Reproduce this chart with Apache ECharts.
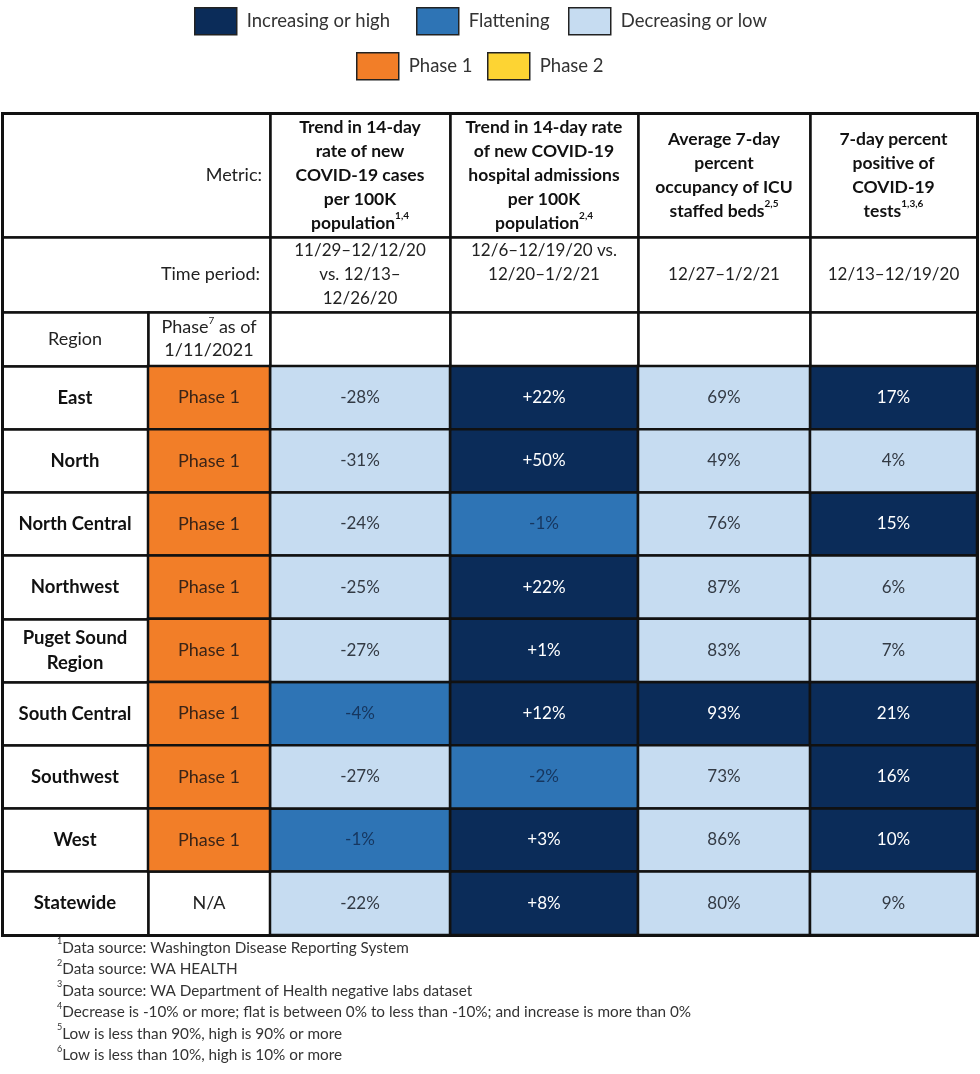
<!DOCTYPE html>
<html><head><meta charset="utf-8">
<script src="https://cdn.jsdelivr.net/npm/echarts@6/dist/echarts.min.js"></script>
<style>html,body{margin:0;padding:0;background:#fff}#c{width:980px;height:1074px}</style>
</head><body><div id="c"></div>
<script>
// ---------- data ----------
const regions = ['East','North','North Central','Northwest','Puget Sound Region','South Central','Southwest','West','Statewide'];
const regionLabels = ['East','North','North Central','Northwest','Puget Sound\nRegion','South Central','Southwest','West','Statewide'];
const phases = ['Phase 1','Phase 1','Phase 1','Phase 1','Phase 1','Phase 1','Phase 1','Phase 1','N/A'];
const casesTrend = [-28,-31,-24,-25,-27,-4,-27,-1,-22];
const hospTrend = [22,50,-1,22,1,12,-2,3,8];
const icuOccupancy = [69,49,76,87,83,93,73,86,80];
const testPositivity = [17,4,15,6,7,21,16,10,9];
const metricLines = [
  ['Trend in 14-day','rate of new','COVID-19 cases','per 100K','population'],
  ['Trend in 14-day rate','of new COVID-19','hospital admissions','per 100K','population'],
  ['Average 7-day','percent','occupancy of ICU','staffed beds'],
  ['7-day percent','positive of','COVID-19','tests']
];
const metricSups = ['1,4','2,4','2,5','1,3,6'];
const timePeriods = [
  ['11/29–12/12/20','vs. 12/13–','12/26/20'],
  ['12/6–12/19/20 vs.','12/20–1/2/21',' '],
  ['12/27–1/2/21'],
  ['12/13–12/19/20']
];
const statusNames = ['Increasing or high','Flattening','Decreasing or low'];
const phaseNames = ['Phase 1','Phase 2'];
const footnotes = [
  'Data source: Washington Disease Reporting System',
  'Data source: WA HEALTH',
  'Data source: WA Department of Health negative labs dataset',
  'Decrease is -10% or more; flat is between 0% to less than -10%; and increase is more than 0%',
  'Low is less than 90%, high is 90% or more',
  'Low is less than 10%, high is 10% or more'
];

// ---------- layout / style ----------
const FONT = 'Lato';
const colKeys = ['Region','Phase','Cases','Hosp','ICU','Pos'];
const colSizes = [146,122,180,188,172,167];
const rowKeys = ['Metric','Time','Header'].concat(regions);
const rowSizes = [124,75,54].concat(regions.map(() => 63.2));
const statusColors = ['#0b2c59','#2e74b5','#c6dcf1'];
const statusText = ['#ffffff','#16365f','#333a44'];
const phaseColors = ['#f27e28','#fdd433'];
const LINE = '#111';
const legendPos = [[194,7],[416,7],[568,7],[356,52],[487,52]];

function trendStatus(v){ return v > 0 ? 0 : (v > -10 ? 1 : 2); }
function icuStatus(v){ return v >= 90 ? 0 : 2; }
function posStatus(v){ return v >= 10 ? 0 : 2; }
const metricCols = [
  {col:2, vals:casesTrend, st:trendStatus},
  {col:3, vals:hospTrend, st:trendStatus},
  {col:4, vals:icuOccupancy, st:icuStatus},
  {col:5, vals:testPositivity, st:posStatus}
];
const signedCols = {2:true,3:true};

const statusData = [[],[],[]];
metricCols.forEach(m => {
  m.vals.forEach((v, r) => { statusData[m.st(v)].push([m.col, r + 3, v]); });
});
const phaseData = [[],[]];
phases.forEach((p, r) => { const i = phaseNames.indexOf(p); if (i >= 0) phaseData[i].push({name: p, value: [1, r + 3, i]}); });

// text cells (headers, region names, N/A)
const textItems = [];
function addText(c, r, text, label){
  textItems.push(text);
  const item = {value: [c, r, textItems.length - 1]};
  if (label) item.label = label;
  return item;
}
const textData = [
  addText(1, 0, '{n|Metric:}', {position:'insideRight', distance:8}),
  addText(1, 1, '{n|Time period:}', {position:'insideRight', distance:10}),
  addText(0, 2, '{n|Region}'),
  addText(1, 2, '{p|Phase}{s|7}{p| as of}\n{p|1/11/2021}')
];
metricLines.forEach((lines, i) => {
  const txt = lines.map((l, j) => '{b|' + l + '}' + (j === lines.length - 1 ? '{bs|' + metricSups[i] + '}' : '')).join('\n');
  textData.push(addText(i + 2, 0, txt));
  textData.push(addText(i + 2, 1, timePeriods[i].map(l => '{d|' + l + '}').join('\n')));
});
regionLabels.forEach((n, r) => {
  textData.push(addText(0, r + 3, n.split('\n').map(l => '{r|' + l + '}').join('\n')));
  if (phaseNames.indexOf(phases[r]) < 0) textData.push(addText(1, r + 3, '{n|' + phases[r] + '}'));
});

function fmt(params){
  const c = params.value[0], v = params.value[2];
  return (signedCols[c] && v > 0 ? '+' : '') + v + '%';
}

const series = [];
statusNames.forEach((name, i) => {
  series.push({
    name: name, type:'heatmap', coordinateSystem:'matrix', data: statusData[i],
    itemStyle:{color: statusColors[i], borderColor: LINE, borderWidth: 2.5},
    label:{show:true, formatter: fmt, color: statusText[i], fontSize:17, fontFamily: FONT},
    emphasis:{disabled:true}
  });
});
phaseNames.forEach((name, i) => {
  series.push({
    name: name, type:'heatmap', coordinateSystem:'matrix', data: phaseData[i],
    itemStyle:{color: phaseColors[i], borderColor: LINE, borderWidth: 2.5},
    label:{show:true, formatter: p => p.name, color:'#3a2417', fontSize:18, fontFamily: FONT},
    emphasis:{disabled:true}
  });
});
series.push({
  name:'text', type:'heatmap', coordinateSystem:'matrix', data: textData,
  itemStyle:{color:'rgba(0,0,0,0)', borderWidth:0},
  emphasis:{disabled:true}, silent:true,
  label:{show:true, formatter: p => textItems[p.value[2]], fontFamily: FONT,
    rich:{
      b:{fontSize:17.5, fontWeight:'bold', lineHeight:24, color:'#111', fontFamily: FONT},
      bs:{fontSize:10, fontWeight:'bold', lineHeight:14, verticalAlign:'top', color:'#111', fontFamily: FONT},
      n:{fontSize:18, lineHeight:24, color:'#222', fontFamily: FONT},
      p:{fontSize:18, lineHeight:23, color:'#222', fontFamily: FONT},
      s:{fontSize:10, lineHeight:13, verticalAlign:'top', color:'#222', fontFamily: FONT},
      d:{fontSize:17, lineHeight:24, color:'#222', fontFamily: FONT},
      r:{fontSize:18.5, fontWeight:'bold', lineHeight:25, color:'#111', fontFamily: FONT}
    }
  }
});

const legendNames = statusNames.concat(phaseNames);
const legends = legendNames.map((name, i) => ({
  data:[name], left: legendPos[i][0], top: legendPos[i][1],
  itemWidth:42, itemHeight:27, icon:'rect', selectedMode:false, padding:0,
  itemStyle:{borderColor:'#222', borderWidth:1.5},
  textStyle:{fontSize:18.5, color:'#333', fontFamily: FONT, padding:[0,0,0,5]}
}));

const chart = echarts.init(document.getElementById('c'), null, {renderer:'canvas'});
chart.setOption({
  backgroundColor:'#fff',
  animation:false,
  textStyle:{fontFamily: FONT},
  legend: legends,
  matrix:{
    left:2, top:113, width:975, height:822,
    x:{show:false, data: colKeys.map((k, i) => ({value:k, size: colSizes[i]}))},
    y:{show:false, data: rowKeys.map((k, i) => ({value:k, size: rowSizes[i]}))},
    body:{
      data:[
        {coord:[[0,1],[0,0]], mergeCells:true},
        {coord:[[0,1],[1,1]], mergeCells:true}
      ],
      itemStyle:{color:'#fff', borderColor: LINE, borderWidth:2.5}
    },
    backgroundStyle:{borderColor: LINE, borderWidth:3}
  },
  graphic:[{
    type:'text', left:57, top:937, silent:true,
    style:{
      text: footnotes.map((l, i) => '{s|' + (i + 1) + '}{t|' + l + '}').join('\n'),
      rich:{
        t:{fontSize:15.3, lineHeight:21.5, fill:'#333', fontFamily: FONT},
        s:{fontSize:9, lineHeight:12, verticalAlign:'top', fill:'#333', fontFamily: FONT}
      }
    }
  }],
  series: series
});
</script></body></html>
